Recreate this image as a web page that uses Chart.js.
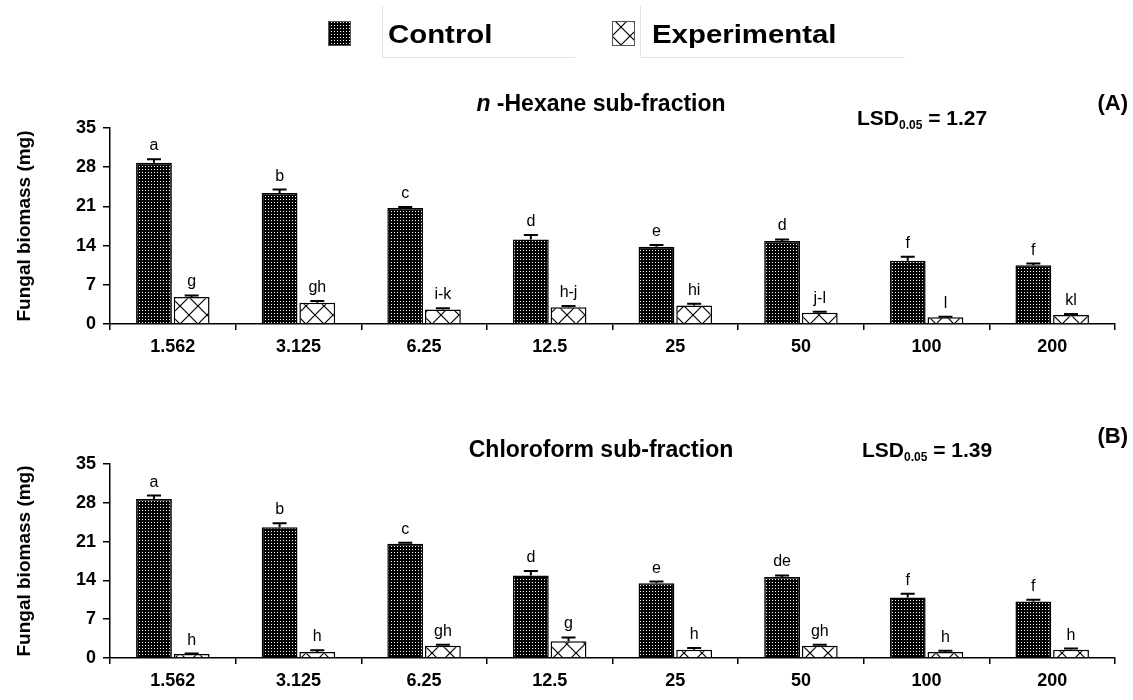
<!DOCTYPE html>
<html>
<head>
<meta charset="utf-8">
<script src="https://cdn.jsdelivr.net/npm/chart.js@4/dist/chart.umd.min.js"></script>
<style>
  html, body { margin: 0; padding: 0; background: #fff; }
  #wrap { position: relative; width: 1133px; height: 700px; overflow: hidden; }
  canvas { position: absolute; left: 0; }
  #chartA { top: 0; }
  #chartB { top: 365px; }
</style>
</head>
<body>
<div id="wrap">
  <canvas id="chartA" width="1133" height="365"></canvas>
  <canvas id="chartB" width="1133" height="335"></canvas>
</div>
<script>
// Values (mg). Both panels share the same dose axis.
const doses = ['1.562', '3.125', '6.25', '12.5', '25', '50', '100', '200'];
const yTicks = [0, 7, 14, 21, 28, 35];

const hexControl = [28.8, 23.4, 20.7, 15.1, 13.8, 14.8, 11.3, 10.5];
const hexControlErr = [0.6, 0.6, 0.2, 0.8, 0.3, 0.3, 0.7, 0.3];
const hexControlLetters = ['a', 'b', 'c', 'd', 'e', 'd', 'f', 'f'];
const hexExp = [4.8, 3.8, 2.6, 3.0, 3.3, 2.0, 1.2, 1.6];
const hexExpErr = [0.3, 0.3, 0.2, 0.2, 0.3, 0.2, 0.1, 0.2];
const hexExpLetters = ['g', 'gh', 'i-k', 'h-j', 'hi', 'j-l', 'l', 'kl'];

const chlControl = [28.7, 23.6, 20.6, 14.9, 13.5, 14.6, 10.9, 10.2];
const chlControlErr = [0.6, 0.7, 0.2, 0.8, 0.3, 0.3, 0.7, 0.3];
const chlControlLetters = ['a', 'b', 'c', 'd', 'e', 'de', 'f', 'f'];
const chlExp = [0.7, 1.1, 2.2, 3.0, 1.5, 2.2, 1.1, 1.5];
const chlExpErr = [0.1, 0.3, 0.2, 0.7, 0.3, 0.2, 0.2, 0.2];
const chlExpLetters = ['h', 'h', 'gh', 'g', 'h', 'gh', 'h', 'h'];

(function () {
  'use strict';

  const FONT = '"Liberation Sans", Arial, sans-serif';
  const scratch = document.createElement('canvas').getContext('2d');

  // black fill with a fine grid of white dots
  function dotPattern() {
    const c = document.createElement('canvas');
    c.width = 3; c.height = 3;
    const g = c.getContext('2d');
    g.fillStyle = '#000'; g.fillRect(0, 0, 3, 3);
    g.fillStyle = '#fff'; g.fillRect(1, 1, 1, 1);
    return scratch.createPattern(c, 'repeat');
  }

  // white fill crossed by diagonals
  function crossPattern() {
    const s = 18;
    const c = document.createElement('canvas');
    c.width = s; c.height = s;
    const g = c.getContext('2d');
    g.fillStyle = '#fff'; g.fillRect(0, 0, s, s);
    g.strokeStyle = '#000'; g.lineWidth = 1.2;
    g.beginPath();
    g.moveTo(0, 0); g.lineTo(s, s);
    g.moveTo(s, 0); g.lineTo(0, s);
    g.stroke();
    return scratch.createPattern(c, 'repeat');
  }

  const dots = dotPattern();
  const cross = crossPattern();

  // text runs with mixed fonts; sx widens the glyphs like the source figure
  function drawRuns(ctx, runs, x, y, align, sx) {
    sx = sx || 1;
    let total = 0;
    runs.forEach((r) => { ctx.font = r.font; total += ctx.measureText(r.text).width * sx; });
    let cx = align === 'center' ? x - total / 2 : align === 'right' ? x - total : x;
    ctx.textAlign = 'left';
    ctx.textBaseline = 'alphabetic';
    runs.forEach((r) => {
      ctx.font = r.font;
      ctx.save();
      ctx.translate(cx, y + (r.dy || 0));
      ctx.scale(sx, 1);
      ctx.fillText(r.text, 0, 0);
      ctx.restore();
      cx += ctx.measureText(r.text).width * sx;
    });
  }

  const annotate = {
    id: 'annotate',
    afterDatasetsDraw(chart, args, opts) {
      const ctx = chart.ctx;
      const y = chart.scales.y;
      ctx.save();
      ctx.fillStyle = '#000';
      ctx.strokeStyle = '#000';

      // error bars (upper half) and significance letters
      chart.data.datasets.forEach((ds, di) => {
        const meta = chart.getDatasetMeta(di);
        meta.data.forEach((bar, i) => {
          const top = y.getPixelForValue(ds.data[i] + ds.errors[i]);
          ctx.lineWidth = 2;
          ctx.beginPath();
          ctx.moveTo(bar.x, bar.y);
          ctx.lineTo(bar.x, top);
          ctx.moveTo(bar.x - 7, top);
          ctx.lineTo(bar.x + 7, top);
          ctx.stroke();
          ctx.font = '16px ' + FONT;
          ctx.textAlign = 'center';
          ctx.textBaseline = 'alphabetic';
          ctx.fillText(ds.letters[i], bar.x, top - 9);
        });
      });

      drawRuns(ctx, opts.title, 601, opts.titleY, 'center');
      drawRuns(ctx, [
        { text: 'LSD', font: 'bold 21px ' + FONT },
        { text: '0.05', font: 'bold 12px ' + FONT, dy: 4 },
        { text: ' = ' + opts.lsd, font: 'bold 21px ' + FONT },
      ], opts.lsdX, opts.lsdY, 'left');
      drawRuns(ctx, [{ text: opts.tag, font: 'bold 22px ' + FONT }], 1128, opts.tagY, 'right');

      if (opts.legend) {
        const items = [
          { label: 'Control', fill: dots, sx: 328, tx: 388, box: [382, 575] },
          { label: 'Experimental', fill: cross, sx: 612, tx: 652, box: [640, 905] },
        ];
        items.forEach((it) => {
          ctx.fillStyle = it.fill;
          ctx.fillRect(it.sx, 21, 22, 24);
          ctx.lineWidth = 1;
          ctx.strokeStyle = '#555';
          ctx.strokeRect(it.sx + 0.5, 21.5, 22, 24);
          ctx.strokeStyle = '#e2e2e2';
          ctx.beginPath();
          ctx.moveTo(it.box[0] + 0.5, 6);
          ctx.lineTo(it.box[0] + 0.5, 57.5);
          ctx.lineTo(it.box[1], 57.5);
          ctx.stroke();
          ctx.fillStyle = '#000';
          drawRuns(ctx, [{ text: it.label, font: 'bold 26px ' + FONT }], it.tx, 43, 'left', 1.13);
        });
      }
      ctx.restore();
    },
  };

  function makePanel(id, cfg) {
    return new Chart(document.getElementById(id), {
      type: 'bar',
      data: {
        labels: doses,
        datasets: [
          {
            label: 'Control', data: cfg.control, errors: cfg.controlErr, letters: cfg.controlLetters,
            backgroundColor: dots, borderColor: '#000', borderWidth: 1.5,
          },
          {
            label: 'Experimental', data: cfg.exp, errors: cfg.expErr, letters: cfg.expLetters,
            backgroundColor: cross, borderColor: '#000', borderWidth: 1.5,
          },
        ],
      },
      options: {
        responsive: false,
        animation: false,
        events: [],
        categoryPercentage: 0.6,
        barPercentage: 0.95,
        layout: { padding: { top: cfg.padTop, right: 18, left: 0, bottom: 0 } },
        plugins: {
          legend: { display: false },
          tooltip: { enabled: false },
          annotate: cfg.notes,
        },
        scales: {
          x: {
            offset: true,
            grid: { offset: true, drawOnChartArea: false, drawTicks: true, tickLength: 6, color: '#000', lineWidth: 1.5 },
            border: { display: true, color: '#000', width: 1.5 },
            ticks: { color: '#000', font: { family: FONT, size: 18, weight: 'bold' }, padding: 6 },
            afterFit: (s) => { s.height = cfg.xHeight; },
          },
          y: {
            min: 0,
            max: 35,
            afterBuildTicks: (s) => { s.ticks = yTicks.map((v) => ({ value: v })); },
            grid: { drawOnChartArea: false, drawTicks: true, tickLength: 7, color: '#000', lineWidth: 1.5 },
            border: { display: true, color: '#000', width: 1.5 },
            ticks: { color: '#000', font: { family: FONT, size: 18, weight: 'bold' }, padding: 7 },
            title: {
              display: true, text: 'Fungal biomass (mg)', color: '#000',
              font: { family: FONT, size: 19, weight: 'bold' }, padding: { top: 13, bottom: 0 },
            },
            afterFit: (s) => { s.width = 110; },
          },
        },
      },
      plugins: [annotate],
    });
  }

  makePanel('chartA', {
    control: hexControl, controlErr: hexControlErr, controlLetters: hexControlLetters,
    exp: hexExp, expErr: hexExpErr, expLetters: hexExpLetters,
    padTop: 128, xHeight: 41,
    notes: {
      title: [
        { text: 'n', font: 'italic bold 23px ' + FONT },
        { text: ' -Hexane sub-fraction', font: 'bold 23px ' + FONT },
      ],
      titleY: 111, lsd: '1.27', lsdX: 857, lsdY: 125, tag: '(A)', tagY: 110, legend: true,
    },
  });

  makePanel('chartB', {
    control: chlControl, controlErr: chlControlErr, controlLetters: chlControlLetters,
    exp: chlExp, expErr: chlExpErr, expLetters: chlExpLetters,
    padTop: 99, xHeight: 42,
    notes: {
      title: [{ text: 'Chloroform sub-fraction', font: 'bold 23px ' + FONT }],
      titleY: 92, lsd: '1.39', lsdX: 862, lsdY: 92, tag: '(B)', tagY: 78, legend: false,
    },
  });
})();
</script>
</body>
</html>
